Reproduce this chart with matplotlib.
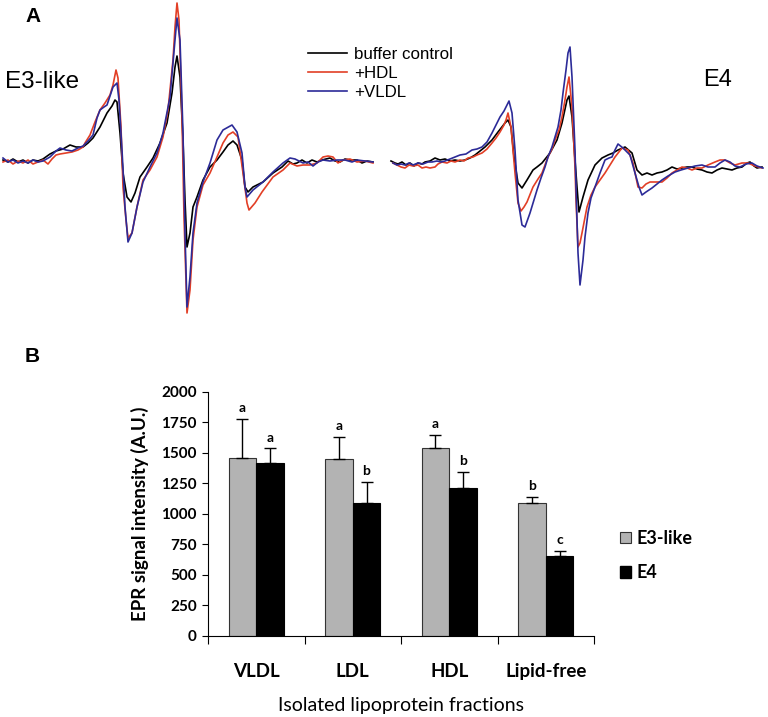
import numpy as np
import matplotlib.pyplot as plt
from matplotlib.patches import Patch

# ---- panel A: EPR spectra (field position, trace height) ----
BASE = 162  # baseline of the traces

e3_ctrl_x = [3, 8, 13, 18, 23, 28, 33, 38, 43, 50, 56, 63, 70, 76, 83, 88, 93, 100, 107, 112, 115, 117, 120, 123,
             127, 131, 135, 140, 147, 153, 160, 167, 172, 175, 177, 180, 183, 185, 187, 190, 193, 197, 203, 210,
             217, 223, 228, 233, 237, 242, 245, 248, 253, 263, 273, 282, 288, 293, 297, 302, 307, 312, 317, 322,
             330, 335, 340, 345, 350, 357, 362, 367, 373]
e3_ctrl_y = [160, 162, 159, 162, 160, 163, 160, 161, 159, 154, 151, 149, 145, 147, 147, 143, 138, 127, 113, 106, 100,
             102, 133, 173, 197, 202, 193, 177, 167, 158, 143, 123, 93, 67, 56, 77, 140, 200, 247, 233, 207, 197,
             180, 167, 160, 152, 145, 141, 145, 160, 187, 192, 187, 182, 173, 167, 161, 164, 163, 160, 163, 160,
             162, 160, 158, 161, 162, 159, 160, 160, 163, 161, 162]

e3_hdl_x = [3, 8, 13, 18, 23, 28, 33, 38, 43, 48, 52, 56, 60, 66, 72, 78, 83, 85, 90, 95, 100, 105, 110, 113, 116,
            118, 121, 123, 126, 128, 132, 137, 143, 150, 157, 163, 168, 173, 175, 177, 179, 182, 184, 187, 190,
            193, 197, 203, 210, 217, 223, 228, 233, 238, 243, 247, 249, 255, 262, 273, 283, 290, 297, 303, 310,
            317, 323, 328, 333, 338, 343, 350, 357, 365, 373]
e3_hdl_y = [162, 160, 164, 161, 163, 160, 164, 162, 160, 164, 159, 155, 154, 153, 152, 150, 147, 143, 135, 122, 110,
            103, 95, 85, 70, 78, 127, 187, 220, 238, 233, 207, 180, 170, 157, 137, 110, 60, 27, 3, 20, 117, 217,
            313, 290, 240, 207, 185, 173, 157, 143, 135, 132, 137, 173, 203, 210, 203, 192, 177, 170, 163, 166,
            165, 165, 163, 157, 156, 157, 163, 160, 159, 162, 161, 163]

e3_vldl_x = [3, 8, 13, 18, 23, 28, 33, 38, 43, 50, 56, 60, 66, 72, 78, 83, 88, 93, 97, 100, 104, 107, 113, 117,
             119, 122, 125, 128, 132, 137, 143, 150, 157, 163, 170, 175, 177, 180, 183, 185, 187, 190, 193, 197,
             203, 210, 217, 223, 232, 237, 242, 245, 247, 253, 263, 273, 283, 290, 295, 303, 308, 313, 318, 323,
             330, 337, 345, 352, 357, 365, 373]
e3_vldl_y = [158, 162, 160, 163, 161, 163, 160, 162, 161, 157, 151, 148, 150, 151, 148, 146, 141, 135, 118, 110, 107,
             105, 87, 83, 100, 150, 207, 242, 233, 207, 182, 167, 153, 133, 97, 40, 18, 40, 133, 233, 307, 277,
             233, 203, 182, 163, 140, 130, 125, 132, 153, 187, 197, 190, 182, 172, 163, 158, 159, 163, 162, 166,
             162, 160, 161, 160, 160, 162, 160, 161, 162]

e4_ctrl_x = [391, 395, 398, 402, 406, 410, 414, 418, 422, 425, 430, 435, 440, 445, 450, 455, 460, 465, 470, 475,
             480, 485, 492, 498, 505, 508, 511, 514, 518, 522, 527, 533, 537, 542, 546, 550, 557, 562, 567, 569,
             572, 575, 577, 579, 583, 588, 595, 602, 608, 613, 618, 625, 632, 637, 642, 647, 652, 657, 662, 667,
             672, 677, 682, 687, 692, 697, 702, 707, 712, 717, 722, 727, 732, 737, 742, 747, 750, 754, 757, 762]
e4_ctrl_y = [161, 163, 164, 162, 165, 163, 166, 163, 164, 162, 161, 158, 160, 159, 161, 160, 161, 160, 158, 155,
             151, 147, 140, 132, 123, 120, 127, 157, 183, 188, 180, 170, 167, 163, 158, 153, 140, 123, 100, 96,
             117, 160, 187, 212, 197, 180, 165, 158, 155, 153, 150, 147, 153, 170, 175, 173, 175, 173, 172, 170,
             167, 169, 168, 167, 167, 169, 170, 172, 173, 170, 168, 169, 170, 168, 167, 163, 162, 166, 168, 167]

e4_hdl_x = [393, 397, 401, 405, 409, 413, 418, 422, 426, 430, 435, 438, 442, 447, 451, 455, 460, 464, 468, 473,
            477, 482, 487, 492, 496, 500, 504, 506, 508, 511, 515, 518, 521, 524, 527, 533, 538, 542, 545, 548,
            552, 555, 559, 562, 565, 567, 569, 572, 575, 576, 578, 580, 582, 587, 591, 595, 600, 605, 610, 615,
            622, 628, 633, 638, 642, 646, 650, 656, 662, 667, 672, 677, 682, 687, 692, 697, 702, 708, 715, 720,
            725, 730, 735, 742, 748, 755, 762]
e4_hdl_y = [163, 165, 167, 168, 165, 166, 165, 168, 167, 168, 167, 164, 162, 163, 161, 162, 160, 161, 158, 157,
            155, 153, 149, 143, 138, 132, 125, 120, 113, 127, 173, 203, 211, 207, 202, 187, 179, 173, 165, 157,
            149, 140, 130, 117, 100, 87, 77, 107, 167, 200, 247, 243, 233, 207, 195, 187, 180, 173, 165, 157,
            148, 150, 163, 187, 188, 184, 182, 182, 182, 178, 173, 170, 167, 168, 170, 168, 168, 165, 162, 160,
            160, 163, 165, 163, 163, 166, 168]

e4_vldl_x = [393, 397, 401, 405, 409, 413, 418, 423, 428, 432, 437, 441, 445, 450, 455, 460, 466, 472, 477, 482,
             487, 492, 496, 500, 504, 506, 509, 512, 515, 518, 522, 525, 530, 537, 541, 545, 548, 552, 555, 558,
             561, 563, 566, 568, 570, 572, 575, 576, 578, 580, 583, 585, 588, 591, 595, 600, 605, 609, 612, 615,
             618, 623, 630, 635, 639, 642, 646, 652, 657, 662, 668, 675, 681, 688, 695, 702, 708, 715, 720, 725,
             730, 735, 740, 746, 752, 757, 763]
e4_vldl_y = [163, 165, 164, 165, 163, 165, 163, 164, 162, 162, 161, 162, 161, 159, 157, 155, 154, 150, 149, 147,
             142, 133, 125, 117, 111, 107, 101, 113, 150, 200, 225, 227, 213, 190, 178, 167, 157, 147, 137, 127,
             110, 93, 70, 53, 47, 77, 150, 187, 253, 285, 260, 237, 213, 198, 187, 173, 160, 158, 157, 150,
             144, 148, 155, 173, 187, 195, 192, 188, 184, 180, 176, 172, 170, 168, 166, 165, 167, 167, 163, 160,
             162, 166, 167, 164, 163, 166, 168]

trace_labels = ['buffer control', '+HDL', '+VLDL']
trace_colors = ['#000000', '#e23f26', '#2c2b98']

# ---- panel B: bar chart ----
fractions = ['VLDL', 'LDL', 'HDL', 'Lipid-free']
e3_mean = [1455, 1447, 1540, 1086]
e3_err = [323, 181, 107, 52]
e4_mean = [1412, 1086, 1212, 653]
e4_err = [123, 175, 131, 42]
e3_letters = ['a', 'a', 'a', 'b']
e4_letters = ['a', 'b', 'b', 'c']

W, H = 768, 717
fig = plt.figure(figsize=(W / 100, H / 100), dpi=100)

arial = ['Liberation Sans', 'DejaVu Sans']
cal = ['Lato', 'DejaVu Sans']

# spectra axes (top 330 px of figure)
top_h = 330 / H
axA1 = fig.add_axes([0, 1 - top_h, 0.5, top_h])
axA2 = fig.add_axes([0.5, 1 - top_h, 0.5, top_h])
axA1.set_xlim(0, 384)
axA2.set_xlim(384, 768)
for ax in (axA1, axA2):
    ax.set_ylim(BASE - 330, BASE)
    ax.axis('off')

left_sets = [(e3_ctrl_x, e3_ctrl_y), (e3_hdl_x, e3_hdl_y), (e3_vldl_x, e3_vldl_y)]
right_sets = [(e4_ctrl_x, e4_ctrl_y), (e4_hdl_x, e4_hdl_y), (e4_vldl_x, e4_vldl_y)]
lines = []
for (x, y), col, lab in zip(left_sets, trace_colors, trace_labels):
    ln, = axA1.plot(x, BASE - np.array(y), color=col, lw=1.2, label=lab)
    lines.append(ln)
for (x, y), col in zip(right_sets, trace_colors):
    axA2.plot(x, BASE - np.array(y), color=col, lw=1.2)

fig.legend(handles=lines, labels=trace_labels, loc='upper left',
           bbox_to_anchor=(301 / W, 1 - 40 / H), frameon=False,
           prop={'family': arial, 'size': 12.2}, handlelength=2.3,
           handletextpad=0.45, labelspacing=0.25, borderaxespad=0)

fig.text(5 / W, 1 - 82 / H, 'E3-like', family=arial, fontsize=17.5, va='center', ha='left')
fig.text(703 / W, 1 - 80 / H, 'E4', family=arial, fontsize=17, va='center', ha='left')
fig.text(33 / W, 1 - 17 / H, 'A', family=arial, fontsize=15, fontweight='bold', va='center', ha='center')
fig.text(32 / W, 1 - 357 / H, 'B', family=arial, fontsize=15, fontweight='bold', va='center', ha='center')

# bar chart axes
x0, x1 = 208, 594
y_top, y_bot = 391.7, 635.5
axB = fig.add_axes([x0 / W, 1 - y_bot / H, (x1 - x0) / W, (y_bot - y_top) / H])
pos = np.arange(len(fractions))
bw = 0.285
err_kw = dict(ecolor='black', elinewidth=1.0, capsize=4.5, capthick=1.0)
axB.bar(pos - bw / 2, e3_mean, bw, color='#b3b3b3', edgecolor='#333333', linewidth=0.8,
        yerr=[[0] * 4, e3_err], error_kw=err_kw, label='E3-like')
axB.bar(pos + bw / 2, e4_mean, bw, color='black', edgecolor='black', linewidth=0.8,
        yerr=[[0] * 4, e4_err], error_kw=err_kw, label='E4')

for i in range(len(fractions)):
    axB.text(pos[i] - bw / 2, e3_mean[i] + e3_err[i] + 40, e3_letters[i], ha='center', va='bottom',
             family=cal, fontweight='bold', fontsize=10)
    axB.text(pos[i] + bw / 2, e4_mean[i] + e4_err[i] + 40, e4_letters[i], ha='center', va='bottom',
             family=cal, fontweight='bold', fontsize=10)

axB.set_xlim(-0.5, 3.5)
axB.set_ylim(0, 2000)
axB.set_yticks(np.arange(0, 2001, 250))
axB.set_xticks(np.arange(-0.5, 3.6, 1.0))
axB.set_xticklabels([])
axB.set_xticks(pos, minor=True)
axB.set_xticklabels(fractions, minor=True)
axB.tick_params(axis='x', which='major', direction='out', length=6, width=0.8)
axB.tick_params(axis='x', which='minor', length=0, pad=20)
axB.tick_params(axis='y', direction='out', length=4, width=0.8, pad=4)
for lab in axB.get_yticklabels() + axB.get_xticklabels(minor=True):
    lab.set_family(cal)
    lab.set_fontweight('bold')
for lab in axB.get_yticklabels():
    lab.set_fontsize(11)
for lab in axB.get_xticklabels(minor=True):
    lab.set_fontsize(13.5)
axB.spines['top'].set_visible(False)
axB.spines['right'].set_visible(False)
axB.spines['left'].set_linewidth(0.8)
axB.spines['bottom'].set_linewidth(0.8)

axB.set_ylabel('EPR signal intensity (A.U.)', family=cal, fontweight='bold', fontsize=13.5)
axB.yaxis.set_label_coords((140 - x0) / (x1 - x0), 0.5)
axB.yaxis.label.set_va('center')
axB.set_xlabel('Isolated lipoprotein fractions', family=cal, fontsize=14)
axB.xaxis.set_label_coords(0.5, -(705 - y_bot) / (y_bot - y_top))
axB.xaxis.label.set_va('center')

handles = [Patch(facecolor='#b3b3b3', edgecolor='#333333', linewidth=0.8),
           Patch(facecolor='black', edgecolor='black')]
fig.legend(handles=handles, labels=['E3-like', 'E4'], loc='upper left',
           bbox_to_anchor=(620 / W, 1 - 530 / H), frameon=False,
           prop={'family': cal, 'weight': 'bold', 'size': 13},
           handlelength=0.6, handleheight=0.6, handletextpad=0.3,
           labelspacing=0.95, borderaxespad=0, borderpad=0)

fig.savefig('out.png', dpi=100)
